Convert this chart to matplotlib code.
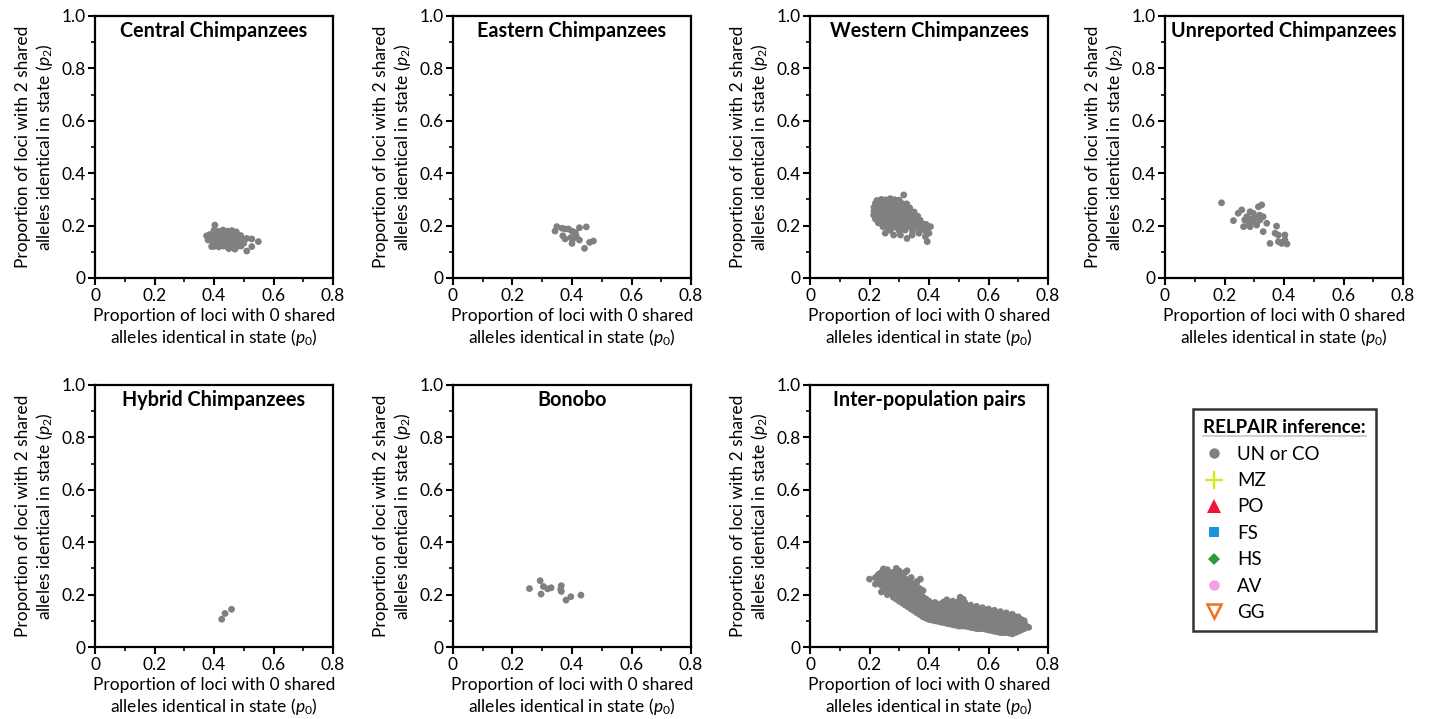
import numpy as np
import matplotlib
matplotlib.use('Agg')
import matplotlib.pyplot as plt
from matplotlib.lines import Line2D
from matplotlib.ticker import MultipleLocator, FuncFormatter

plt.rcParams['font.family'] = ['Lato', 'DejaVu Sans']
plt.rcParams['mathtext.fontset'] = 'custom'
plt.rcParams['mathtext.it'] = 'Lato:italic'
plt.rcParams['mathtext.rm'] = 'Lato'

GREY = '#808080'

# p0 / p2 values
central = [
    (0.403, 0.202), (0.375, 0.161), (0.380, 0.145), (0.392, 0.120),
    (0.400, 0.182), (0.415, 0.178), (0.430, 0.183), (0.445, 0.179), (0.460, 0.181), (0.475, 0.176),
    (0.386, 0.166), (0.401, 0.164), (0.416, 0.167), (0.431, 0.163), (0.446, 0.166), (0.461, 0.164),
    (0.476, 0.166), (0.490, 0.162),
    (0.390, 0.150), (0.405, 0.152), (0.420, 0.149), (0.435, 0.151), (0.450, 0.148), (0.465, 0.152),
    (0.480, 0.150), (0.495, 0.147), (0.510, 0.151),
    (0.396, 0.136), (0.411, 0.134), (0.426, 0.137), (0.441, 0.133), (0.456, 0.136), (0.471, 0.134),
    (0.486, 0.137), (0.500, 0.133),
    (0.401, 0.121), (0.416, 0.119), (0.431, 0.122), (0.446, 0.118), (0.461, 0.121), (0.476, 0.119),
    (0.491, 0.122),
    (0.527, 0.149), (0.549, 0.139), (0.527, 0.120), (0.510, 0.103), (0.470, 0.110), (0.450, 0.112),
]

eastern = [
    (0.349, 0.196), (0.343, 0.179), (0.366, 0.190), (0.377, 0.187), (0.388, 0.187), (0.400, 0.179),
    (0.411, 0.174), (0.425, 0.192), (0.448, 0.195), (0.369, 0.161), (0.377, 0.149), (0.396, 0.154),
    (0.403, 0.149), (0.414, 0.161), (0.400, 0.132), (0.425, 0.145), (0.459, 0.136), (0.472, 0.141),
    (0.442, 0.113),
]

western = [
    (0.315, 0.317),
    (0.225, 0.296), (0.240, 0.300), (0.255, 0.298), (0.270, 0.303), (0.285, 0.299), (0.300, 0.297),
    (0.220, 0.285), (0.235, 0.287), (0.250, 0.284), (0.265, 0.288), (0.280, 0.285), (0.295, 0.286),
    (0.310, 0.284), (0.325, 0.283),
    (0.215, 0.270), (0.230, 0.272), (0.245, 0.269), (0.260, 0.271), (0.275, 0.268), (0.290, 0.272),
    (0.305, 0.270), (0.320, 0.271), (0.335, 0.268),
    (0.215, 0.255), (0.230, 0.257), (0.245, 0.254), (0.260, 0.256), (0.275, 0.253), (0.290, 0.257),
    (0.305, 0.255), (0.320, 0.254), (0.335, 0.256), (0.350, 0.252),
    (0.214, 0.240), (0.230, 0.242), (0.245, 0.239), (0.260, 0.241), (0.275, 0.238), (0.290, 0.242),
    (0.305, 0.240), (0.320, 0.239), (0.335, 0.241), (0.350, 0.238), (0.362, 0.236),
    (0.220, 0.225), (0.235, 0.227), (0.250, 0.224), (0.265, 0.226), (0.280, 0.223), (0.295, 0.227),
    (0.310, 0.225), (0.325, 0.224), (0.340, 0.226), (0.355, 0.223), (0.370, 0.221),
    (0.230, 0.210), (0.245, 0.212), (0.260, 0.209), (0.275, 0.211), (0.290, 0.208), (0.305, 0.212),
    (0.320, 0.210), (0.335, 0.209), (0.350, 0.211), (0.365, 0.208), (0.380, 0.206),
    (0.245, 0.196), (0.260, 0.194), (0.275, 0.197), (0.290, 0.193), (0.305, 0.196), (0.320, 0.194),
    (0.335, 0.197), (0.350, 0.193), (0.365, 0.195), (0.380, 0.192), (0.400, 0.196),
    (0.270, 0.182), (0.300, 0.180), (0.320, 0.183), (0.345, 0.179), (0.370, 0.181), (0.390, 0.178),
    (0.253, 0.171), (0.281, 0.164), (0.304, 0.164), (0.326, 0.151), (0.343, 0.164), (0.366, 0.171),
    (0.388, 0.158), (0.400, 0.171), (0.394, 0.139), (0.405, 0.196), (0.390, 0.205),
]

unreported = [
    (0.190, 0.287), (0.246, 0.247), (0.230, 0.219), (0.258, 0.260), (0.275, 0.234), (0.286, 0.253),
    (0.297, 0.247), (0.314, 0.272), (0.325, 0.279), (0.264, 0.196), (0.281, 0.209), (0.297, 0.215),
    (0.308, 0.202), (0.319, 0.221), (0.330, 0.234), (0.342, 0.209), (0.286, 0.196), (0.330, 0.177),
    (0.375, 0.198), (0.370, 0.171), (0.381, 0.164), (0.403, 0.164), (0.353, 0.132), (0.381, 0.139),
    (0.392, 0.132), (0.403, 0.145), (0.410, 0.130), (0.400, 0.140), (0.290, 0.225), (0.305, 0.232),
    (0.318, 0.240), (0.268, 0.222),
]

hybrid = [(0.426, 0.106), (0.437, 0.128), (0.459, 0.144)]

bonobo = [
    (0.257, 0.223), (0.293, 0.253), (0.304, 0.231), (0.296, 0.202), (0.318, 0.222), (0.330, 0.226),
    (0.364, 0.234), (0.364, 0.212), (0.362, 0.220), (0.396, 0.192), (0.380, 0.179), (0.430, 0.198),
]

inter = [
    (0.200, 0.259), (0.247, 0.298), (0.326, 0.291), (0.371, 0.259), (0.290, 0.300),
    (0.220, 0.240), (0.220, 0.265),
    (0.240, 0.210), (0.240, 0.235), (0.240, 0.260), (0.240, 0.285),
    (0.260, 0.200), (0.260, 0.225), (0.260, 0.250), (0.260, 0.275), (0.260, 0.295),
    (0.280, 0.190), (0.280, 0.215), (0.280, 0.240), (0.280, 0.265), (0.280, 0.285),
    (0.300, 0.175), (0.300, 0.200), (0.300, 0.225), (0.300, 0.250), (0.300, 0.275), (0.300, 0.290),
    (0.320, 0.160), (0.320, 0.185), (0.320, 0.210), (0.320, 0.235), (0.320, 0.260), (0.320, 0.285),
    (0.340, 0.145), (0.340, 0.170), (0.340, 0.195), (0.340, 0.220), (0.340, 0.245), (0.340, 0.265),
    (0.360, 0.130), (0.360, 0.155), (0.360, 0.180), (0.360, 0.205), (0.360, 0.230), (0.360, 0.250),
    (0.380, 0.115), (0.380, 0.140), (0.380, 0.165), (0.380, 0.190), (0.380, 0.215),
    (0.400, 0.105), (0.400, 0.130), (0.400, 0.155), (0.400, 0.175),
    (0.420, 0.100), (0.420, 0.120), (0.420, 0.145), (0.420, 0.170),
    (0.440, 0.095), (0.440, 0.115), (0.440, 0.140), (0.440, 0.165),
    (0.460, 0.090), (0.460, 0.110), (0.460, 0.135), (0.460, 0.160), (0.460, 0.180),
    (0.480, 0.085), (0.480, 0.105), (0.480, 0.130), (0.480, 0.155), (0.480, 0.175),
    (0.500, 0.080), (0.500, 0.100), (0.500, 0.125), (0.500, 0.150), (0.500, 0.175), (0.505, 0.190),
    (0.520, 0.080), (0.520, 0.100), (0.520, 0.120), (0.520, 0.145), (0.520, 0.170),
    (0.540, 0.075), (0.540, 0.095), (0.540, 0.120), (0.540, 0.140), (0.540, 0.160),
    (0.560, 0.070), (0.560, 0.090), (0.560, 0.115), (0.560, 0.135), (0.560, 0.155),
    (0.580, 0.070), (0.580, 0.090), (0.580, 0.110), (0.580, 0.130), (0.580, 0.150),
    (0.600, 0.065), (0.600, 0.085), (0.600, 0.105), (0.600, 0.125), (0.600, 0.145),
    (0.620, 0.060), (0.620, 0.080), (0.620, 0.100), (0.620, 0.120), (0.620, 0.140),
    (0.640, 0.055), (0.640, 0.075), (0.640, 0.095), (0.640, 0.115), (0.640, 0.135),
    (0.660, 0.055), (0.660, 0.075), (0.660, 0.095), (0.660, 0.115), (0.660, 0.130),
    (0.680, 0.050), (0.680, 0.070), (0.680, 0.090), (0.680, 0.110), (0.680, 0.125),
    (0.700, 0.060), (0.700, 0.080), (0.700, 0.100), (0.700, 0.115),
    (0.720, 0.070), (0.720, 0.090), (0.720, 0.100), (0.735, 0.075),
]

# in-between pairs of the dense band
inter_fill = [
    (0.230, 0.252), (0.230, 0.277), (0.250, 0.222), (0.250, 0.247), (0.250, 0.272),
    (0.270, 0.208), (0.270, 0.233), (0.270, 0.258), (0.270, 0.283),
    (0.290, 0.183), (0.290, 0.208), (0.290, 0.233), (0.290, 0.258), (0.290, 0.280),
    (0.310, 0.168), (0.310, 0.193), (0.310, 0.218), (0.310, 0.243), (0.310, 0.268),
    (0.330, 0.153), (0.330, 0.178), (0.330, 0.203), (0.330, 0.228), (0.330, 0.253),
    (0.350, 0.138), (0.350, 0.163), (0.350, 0.188), (0.350, 0.213), (0.350, 0.238),
    (0.370, 0.123), (0.370, 0.148), (0.370, 0.173), (0.370, 0.198), (0.370, 0.222),
    (0.390, 0.110), (0.390, 0.135), (0.390, 0.160), (0.390, 0.183),
    (0.410, 0.103), (0.410, 0.125), (0.410, 0.150), (0.410, 0.165),
    (0.430, 0.098), (0.430, 0.118), (0.430, 0.135), (0.430, 0.158),
    (0.450, 0.093), (0.450, 0.113), (0.450, 0.128), (0.450, 0.150), (0.450, 0.172),
    (0.470, 0.088), (0.470, 0.108), (0.470, 0.123), (0.470, 0.145), (0.470, 0.168),
    (0.490, 0.083), (0.490, 0.103), (0.490, 0.118), (0.490, 0.140), (0.490, 0.165),
    (0.510, 0.080), (0.510, 0.100), (0.510, 0.113), (0.510, 0.135), (0.510, 0.160), (0.515, 0.182),
    (0.530, 0.078), (0.530, 0.098), (0.530, 0.110), (0.530, 0.130), (0.530, 0.155),
    (0.550, 0.073), (0.550, 0.093), (0.550, 0.105), (0.550, 0.125), (0.550, 0.148),
    (0.570, 0.070), (0.570, 0.090), (0.570, 0.100), (0.570, 0.122), (0.570, 0.142),
    (0.590, 0.068), (0.590, 0.088), (0.590, 0.098), (0.590, 0.118), (0.590, 0.138),
    (0.610, 0.063), (0.610, 0.083), (0.610, 0.093), (0.610, 0.113), (0.610, 0.133),
    (0.630, 0.058), (0.630, 0.078), (0.630, 0.088), (0.630, 0.108), (0.630, 0.128),
    (0.650, 0.055), (0.650, 0.073), (0.650, 0.085), (0.650, 0.105), (0.650, 0.123),
    (0.670, 0.053), (0.670, 0.068), (0.670, 0.083), (0.670, 0.100), (0.670, 0.118),
    (0.690, 0.055), (0.690, 0.068), (0.690, 0.085), (0.690, 0.100), (0.690, 0.115),
    (0.710, 0.065), (0.710, 0.085), (0.710, 0.105), (0.725, 0.082),
]

panels = [
    ('Central Chimpanzees', central),
    ('Eastern Chimpanzees', eastern),
    ('Western Chimpanzees', western),
    ('Unreported Chimpanzees', unreported),
    ('Hybrid Chimpanzees', hybrid),
    ('Bonobo', bonobo),
    ('Inter-population pairs', inter + inter_fill),
]

legend_labels = ['UN or CO', 'MZ', 'PO', 'FS', 'HS', 'AV', 'GG']
legend_markers = ['o', '+', '^', 's', 'D', 'o', 'v']
legend_colors = [GREY, '#d8e81a', '#f0143c', '#1793e0', '#2e9a3a', '#f99ee0', '#f07020']

W, H = 1432, 719
fig = plt.figure(figsize=(W / 100, H / 100), dpi=100)

lefts = [95, 453, 810, 1165]
tops = [16, 385]
aw, ah = 238, 262

xlab = 'Proportion of loci with 0 shared\nalleles identical in state ($\\it{p}_0$)'
ylab = 'Proportion of loci with 2 shared\nalleles identical in state ($\\it{p}_2$)'

fmt = FuncFormatter(lambda v, pos: '0' if abs(v) < 1e-9 else '%.1f' % v)

for i, (title, pts) in enumerate(panels):
    r, c = divmod(i, 4)
    ax = fig.add_axes([lefts[c] / W, 1 - (tops[r] + ah) / H, aw / W, ah / H])
    arr = np.array(pts)
    ax.scatter(arr[:, 0], arr[:, 1], s=24, color=GREY, edgecolors='none', zorder=3)
    ax.set_xlim(0, 0.8)
    ax.set_ylim(0, 1.0)
    ax.xaxis.set_major_locator(MultipleLocator(0.2))
    ax.xaxis.set_minor_locator(MultipleLocator(0.1))
    ax.yaxis.set_major_locator(MultipleLocator(0.2))
    ax.yaxis.set_minor_locator(MultipleLocator(0.1))
    ax.xaxis.set_major_formatter(fmt)
    ax.yaxis.set_major_formatter(fmt)
    ax.tick_params(which='major', direction='out', length=5, width=1.5, labelsize=12.5, pad=2)
    ax.tick_params(which='minor', direction='out', length=3, width=1.2)
    for sp in ax.spines.values():
        sp.set_linewidth(1.6)
    ax.set_xlabel(xlab, fontsize=12.5, labelpad=3)
    ax.set_ylabel(ylab, fontsize=12.5, labelpad=4)
    ax.text(0.5, 0.942, title, transform=ax.transAxes, ha='center', va='center',
            fontsize=14.2, fontweight='bold')

handles = []
for lab, m, col in zip(legend_labels, legend_markers, legend_colors):
    if m == 'v':
        h = Line2D([], [], linestyle='none', marker=m, markersize=10, markerfacecolor='none',
                   markeredgecolor=col, markeredgewidth=1.8)
    elif m == '+':
        h = Line2D([], [], linestyle='none', marker=m, markersize=13, color=col, markeredgewidth=1.7)
    else:
        size = {'o': 7.5, '^': 10, 's': 7.5, 'D': 6}[m]
        h = Line2D([], [], linestyle='none', marker=m, markersize=size, color=col, markeredgewidth=0)
    handles.append(h)

leg = fig.legend(handles, legend_labels, loc='upper left',
                 bbox_to_anchor=(1193 / W, 1 - 409 / H), bbox_transform=fig.transFigure,
                 title='RELPAIR inference:', fontsize=13.5, frameon=True, fancybox=False,
                 handlelength=1.1, handletextpad=0.7, labelspacing=0.5, borderpad=0.55,
                 borderaxespad=0, alignment='left')
leg.get_title().set_fontweight('bold')
leg.get_title().set_fontsize(13.5)
leg.get_frame().set_edgecolor('black')
leg.get_frame().set_linewidth(1.8)

# underline the legend title
fig.canvas.draw()
bb = leg.get_title().get_window_extent().transformed(fig.transFigure.inverted())
fig.add_artist(Line2D([bb.x0, bb.x1], [bb.y0 + 0.001, bb.y0 + 0.001], color='black',
                      linewidth=1.3, transform=fig.transFigure))

fig.savefig('out.png', dpi=100)
